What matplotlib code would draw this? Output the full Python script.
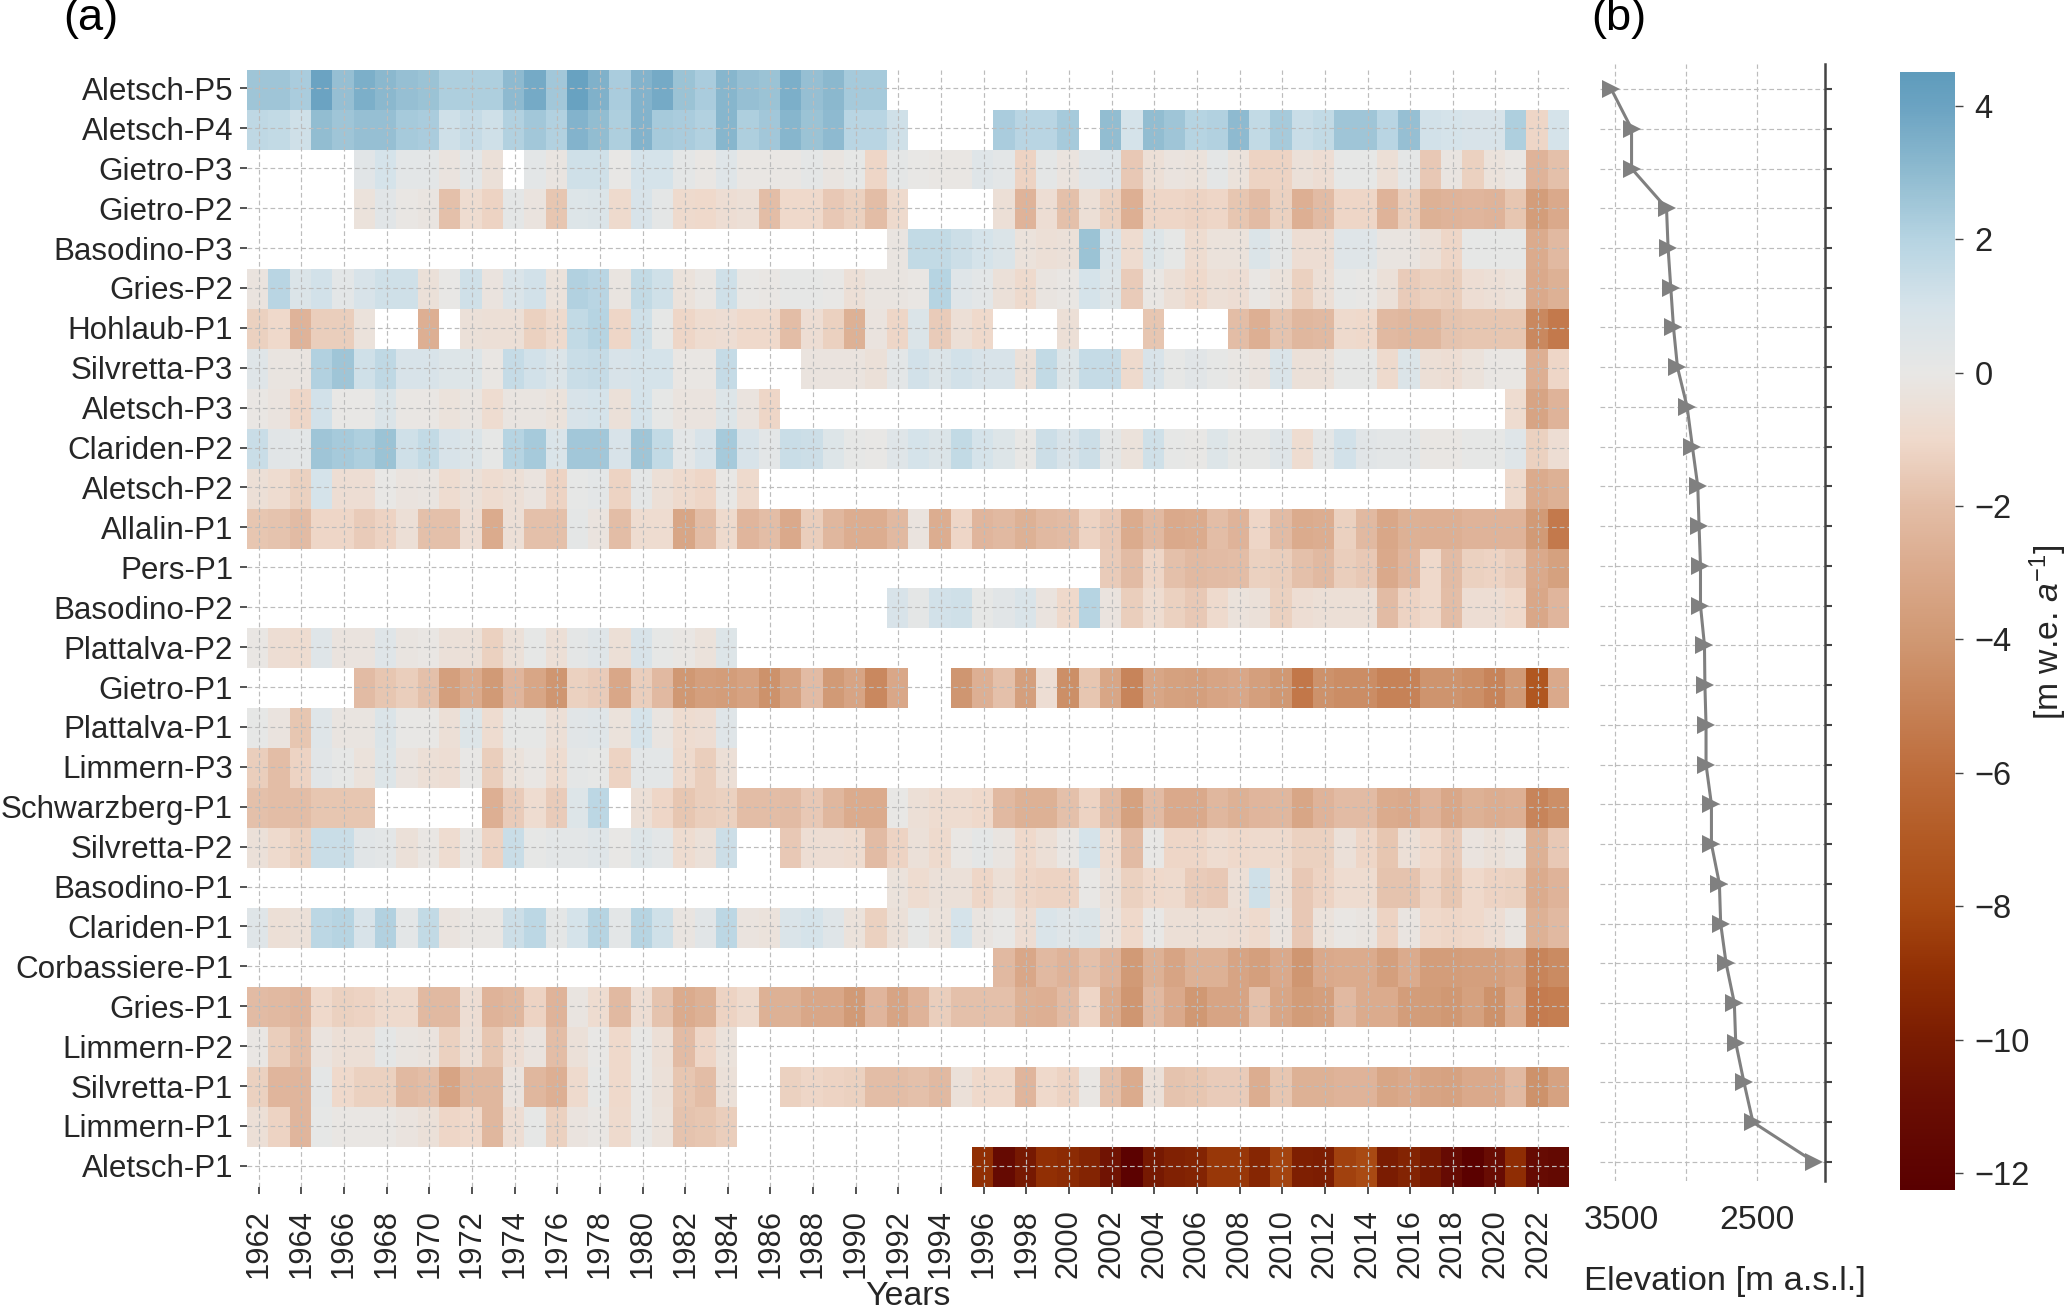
import numpy as np
import matplotlib
matplotlib.use('Agg')
import matplotlib.pyplot as plt
from matplotlib.colors import LinearSegmentedColormap
from matplotlib.transforms import ScaledTranslation

plt.rcParams['font.family'] = ['Liberation Sans', 'DejaVu Sans']
plt.rcParams['mathtext.fontset'] = 'custom'
plt.rcParams['mathtext.rm'] = 'Liberation Sans'
plt.rcParams['mathtext.it'] = 'Liberation Sans:italic'
plt.rcParams['mathtext.bf'] = 'Liberation Sans:bold'

n = np.nan
years = list(range(1962, 2024))
stakes = ['Aletsch-P5', 'Aletsch-P4', 'Gietro-P3', 'Gietro-P2', 'Basodino-P3', 'Gries-P2', 'Hohlaub-P1',
          'Silvretta-P3', 'Aletsch-P3', 'Clariden-P2', 'Aletsch-P2', 'Allalin-P1', 'Pers-P1', 'Basodino-P2',
          'Plattalva-P2', 'Gietro-P1', 'Plattalva-P1', 'Limmern-P3', 'Schwarzberg-P1', 'Silvretta-P2',
          'Basodino-P1', 'Clariden-P1', 'Corbassiere-P1', 'Gries-P1', 'Limmern-P2', 'Silvretta-P1',
          'Limmern-P1', 'Aletsch-P1']

elevation = [3526, 3383, 3383, 3137, 3126, 3107, 3088, 3060, 2992, 2955, 2917, 2908, 2898, 2898, 2870,
             2867, 2859, 2859, 2821, 2821, 2765, 2756, 2718, 2660, 2650, 2592, 2529, 2098]

aletsch_p5 = [2.6, 2.6, 2.3, 4.0, 2.8, 3.5, 3.1, 2.8, 2.7, 2.2, 2.2, 2.2, 3.0, 3.7, 2.5, 4.1, 3.4, 2.3, 3.3, 3.7,
              2.7, 2.3, 3.2, 2.8, 2.7, 3.5, 2.8, 3.1, 2.4, 2.4] + [n] * 32
aletsch_p4 = [1.7, 1.6, 1.2, 2.9, 2.6, 2.8, 2.8, 2.4, 2.3, 1.2, 1.5, 1.2, 2.1, 2.5, 2.1, 3.3, 2.9, 2.2, 3.3, 2.4,
              2.3, 2.1, 3.2, 2.2, 2.5, 3.2, 2.7, 3.0, 1.9, 1.9, 1.2] + [n] * 4 + [2.3, 1.9, 1.9, 2.4, n,
              2.9, 1.0, 2.9, 2.6, 2.0, 2.1, 3.0, 1.6, 2.4, 1.4, 1.6, 2.6, 2.6, 1.9, 2.8, 1.1, 1.0, 0.9, 0.9, 2.2, -1.1, 1.0]
gietro_p3 = [n] * 5 + [0.4, 1.0, 0.3, 0.3, -0.3, 0.3, -0.5, n, 0.3, -0.2, 1.2, 1.2, 0.0, 1.0, 1.0, 0.2, -0.1, 0.5,
             -0.1, -0.1, -0.1, 0.2, -0.2, 0.1, -1.1, 0.2, 0.0, -0.1, -0.1, 0.5, 0.3, -1.2, 0.2, -0.3, 0.4, 0.5, -1.6,
             -0.6, -0.3, -0.4, 0.2, -0.4, -1.2, -1.2, -0.5, -0.7, 0.1, 0.1, -0.6, 0.2, -1.6, -0.2, -1.3, -0.4, -0.1, -2.5, -1.9]
gietro_p2 = [n] * 5 + [-0.4, 0.4, -0.1, -0.2, -1.9, -0.8, -1.2, 0.2, -0.3, -1.7, 0.6, 0.7, -0.9, 0.9, 0.2, -0.9, -1.0,
             -0.7, -0.6, -2.0, -1.0, -1.0, -1.6, -1.3, -2.0, -0.9] + [n] * 4 + [-0.6, -2.5, -0.7, -1.9, -0.6, -1.3, -2.7,
             -1.1, -1.1, -1.2, -1.1, -1.7, -2.1, -1.3, -2.7, -2.1, -1.1, -1.1, -2.5, -1.4, -2.6, -2.5, -2.4, -2.5, -1.7, -3.7, -3.0]
basodino_p3 = [n] * 30 + [-0.2, 1.6, 1.6, 1.3, 1.0, 0.7, -0.4, -0.6, -0.5, 2.7, 0.8, -0.8, 0.6, 0.1, -0.8, -0.4, -0.4,
               0.7, 0.2, -0.7, -0.7, 0.5, 0.5, -0.2, -0.2, -0.5, -1.1, 0.1, 0.1, 0.1, -2.9, -2.2]
gries_p2 = [-0.3, 1.9, 0.7, 1.1, 0.3, 0.9, 1.2, 1.2, -0.5, 0.0, 1.2, -0.3, 0.8, 1.1, -0.4, 2.1, 1.9, -0.2, 1.6, 1.2,
            -0.4, -0.1, 1.2, 0.0, -0.1, 0.1, 0.1, 0.0, -0.6, -0.2, -0.2, -0.1, 2.0, 0.5, 0.3, -0.5, -0.9, -0.2, -0.1,
            1.0, 0.6, -1.5, -0.1, -0.6, -1.0, -0.6, -0.7, -0.1, -0.4, -1.3, -0.6, 0.1, 0.0, -0.5, -1.5, -1.3, -1.4,
            -0.7, -0.6, -0.4, -3.0, -2.6]
hohlaub_p1 = [-1.3, -1.0, -2.5, -1.4, -1.4, -0.4, n, n, -2.7, n, -0.5, -0.6, -0.6, -1.3, -0.9, 1.6, 2.0, -1.1, 1.2, 0.1,
              -1.1, -0.8, -0.7, -1.0, -1.0, -2.0, -0.7, -1.3, -2.6, -0.3, -1.1, 0.7, -1.5, -0.6, -1.0, n, n, n, -0.6,
              n, n, n, -1.7, n, n, n, -2.0, -2.7, -1.8, -2.3, -2.2, -0.9, -1.0, -2.2, -2.3, -2.3, -1.8, -1.7, -1.7, -1.7, -4.7, -5.4]
silvretta_p3 = [0.5, -0.2, -0.2, 2.1, 2.6, 1.2, 1.7, 0.9, 0.9, 0.6, 0.6, -0.1, 1.5, 1.1, 0.7, 1.4, 1.5, 0.9, 1.0, 1.0,
                -0.1, -0.1, 1.5, n, n, n, -0.3, -0.3, -0.3, -0.5, 0.3, 1.1, 0.7, 1.1, 0.9, 0.9, -0.5, 1.6, 0.6, 1.5, 1.5,
                -0.9, 0.9, 0.1, 0.4, 0.1, -0.1, -0.3, 0.8, -0.5, -0.5, 0.1, 0.1, -0.9, 0.7, -0.6, -0.7, -0.4, -0.1, -0.1, -2.7, -1.1]
aletsch_p3 = [-0.1, -0.3, -1.1, 1.1, 0.0, 0.0, 0.7, -0.1, -0.1, -0.4, -0.2, -0.8, -0.2, -0.2, -0.4, 0.9, 1.0, -0.5, 1.0,
              0.1, -0.3, -0.3, 0.6, -0.3, -1.1] + [n] * 34 + [-0.8, -3.3, -2.5]
clariden_p2 = [1.4, 0.4, 0.3, 2.6, 2.4, 2.2, 2.7, 1.2, 1.6, 0.9, 0.7, 0.1, 2.0, 2.4, 0.8, 2.5, 2.5, 0.9, 2.6, 1.6, 0.3,
               0.9, 2.4, 0.9, 0.3, 1.4, 1.3, 0.6, 0.1, 0.0, 0.5, 1.0, 0.7, 1.6, 1.0, 0.6, 0.0, 1.3, 0.9, 1.3, 0.2, -0.4,
               1.2, 0.1, 0.0, 0.6, 0.1, 0.1, 0.5, -0.8, 0.2, 1.1, 0.4, 0.3, 0.3, -0.1, -0.1, 0.1, 0.1, 0.5, -1.3, -0.7]
aletsch_p2 = [-0.6, -0.8, -1.3, 1.0, -0.7, -0.7, 0.0, -0.3, -0.2, -0.8, -0.5, -0.8, -0.6, -0.3, -1.2, 0.1, 0.3, -1.2, 0.2,
              -0.6, -0.9, -1.1, 0.0, -0.9] + [n] * 35 + [-0.9, -2.9, -2.6]
allalin_p1 = [-1.7, -1.8, -2.1, -1.1, -1.1, -1.5, -1.2, -0.6, -1.9, -1.9, -0.7, -2.9, -0.6, -1.9, -1.9, 0.2, -0.3, -2.0,
              -0.8, -0.8, -3.2, -2.0, -0.9, -2.4, -2.0, -3.0, -1.4, -2.3, -2.8, -2.8, -2.2, -0.3, -2.8, -1.1, -2.4, -2.2,
              -2.6, -2.2, -2.1, -1.2, -1.6, -2.9, -2.2, -3.0, -2.9, -2.0, -2.5, -1.1, -2.1, -2.9, -2.8, -1.3, -2.2, -3.1,
              -2.6, -2.7, -2.7, -2.5, -2.5, -2.5, -3.9, -5.4]
pers_p1 = [n] * 40 + [-1.5, -2.1, -1.1, -1.9, -2.2, -2.1, -2.0, -1.3, -1.4, -1.9, -2.2, -1.4, -1.6, -3.0, -2.4, -1.0, -2.1,
                      -1.3, -1.2, -1.5, -3.0, -3.5]
basodino_p2 = [n] * 30 + [0.9, 0.2, 1.1, 1.2, 0.1, 0.4, 0.8, -0.3, -1.0, 2.0, -0.3, -1.4, -0.8, -1.3, -1.6, -0.9, -0.4, -0.5,
                          -1.3, -0.7, -0.6, -0.6, -0.6, -2.1, -1.2, -1.0, -2.0, -0.7, -0.7, -1.0, -3.1, -2.4]
plattalva_p2 = [-0.1, -0.7, -0.8, 0.5, -0.3, -0.3, 0.5, -0.2, -0.1, -0.5, -0.5, -1.3, -0.5, 0.1, -0.6, 0.2, 0.5, -0.6, 0.9,
                0.1, -0.1, -0.4, 0.6] + [n] * 39
gietro_p1 = [n] * 5 + [-2.1, -1.7, -1.4, -1.9, -3.6, -2.9, -3.9, -2.4, -3.2, -4.1, -1.3, -1.5, -3.1, -1.4, -2.2, -4.0, -3.6,
                       -3.7, -3.4, -4.3, -3.4, -2.1, -3.9, -3.3, -4.7, -3.1, n, n, -4.1, -2.7, -1.9, -3.6, -0.7, -4.4, -1.7,
                       -3.2, -4.9, -3.2, -3.5, -3.6, -3.3, -3.1, -3.6, -4.0, -5.5, -4.3, -4.5, -4.5, -5.0, -5.0, -4.2, -4.2,
                       -4.4, -4.9, -3.9, -7.2, -3.0]
plattalva_p1 = [0.1, -0.3, -1.7, 0.5, -0.2, -0.2, 0.7, 0.0, 0.0, -0.6, 0.6, -0.8, 0.1, 0.1, -0.6, 0.4, 0.5, -0.4, 1.0, -0.2,
                -0.8, -0.7, 0.5] + [n] * 39
limmern_p3 = [-1.4, -2.0, -1.2, 0.4, 0.1, -0.4, 0.6, -0.3, -0.6, -0.7, 0.0, -1.4, -0.4, -0.1, -0.8, 0.2, 0.1, -1.2, 0.3, 0.3,
              -0.9, -1.4, -0.6] + [n] * 39
schwarzberg_p1 = [-1.9, -2.0, -2.0, -1.7, -1.7, -1.7, n, n, n, n, n, -2.7, -1.5, -0.8, -1.5, 0.6, 1.8, n, -0.6, -1.1, -1.7,
                  -1.4, -1.3, -2.0, -2.0, -2.1, -1.6, -2.3, -2.9, -2.9, 0.0, -0.6, -0.8, -0.8, -1.0, -2.2, -2.6, -2.6, -1.9,
                  -1.2, -2.2, -3.5, -2.1, -3.0, -3.0, -2.3, -2.6, -2.4, -2.3, -3.2, -2.5, -2.1, -2.1, -2.9, -3.0, -2.5, -3.1,
                  -2.6, -2.8, -2.7, -4.9, -4.4]
silvretta_p2 = [-0.5, -0.9, -1.3, 1.4, 1.4, 0.4, 0.3, -0.5, -0.1, -0.8, -0.1, -1.2, 1.4, 0.1, 0.3, 0.3, 0.5, 0.0, 0.6, 0.3, -0.8,
                -0.5, 1.3, n, n, -1.6, -0.7, -0.7, -0.8, -2.1, -1.2, -0.5, -0.9, -0.1, 0.2, -0.2, -1.0, -0.6, -0.1, 1.0, -0.8,
                -2.1, 0.0, -1.1, -1.1, -0.8, -1.0, -0.9, -0.9, -1.3, -1.3, -0.5, -1.1, -1.7, -0.6, -1.0, -1.5, -0.3, -0.5, -0.2, -2.6, -1.6]
basodino_p1 = [n] * 30 + [-0.4, -0.8, -0.5, -0.5, -1.1, -0.6, -1.1, -1.2, -1.2, 0.0, -0.5, -1.3, -1.0, -0.9, -1.5, -1.6, -0.6,
                          1.2, -0.6, -1.6, -1.2, -0.8, -0.8, -1.8, -1.8, -1.2, -1.7, -1.0, -1.2, -1.3, -2.9, -2.5]
clariden_p1 = [0.5, -0.6, -0.5, 1.8, 2.0, 0.9, 2.1, 0.3, 1.6, -0.3, -0.1, -0.1, 1.3, 1.8, 0.2, 1.0, 2.0, 0.3, 2.0, 1.2, -0.2, 0.4,
               1.8, -0.3, -0.4, 0.8, 1.0, 0.5, -0.4, -1.3, -0.5, 0.1, -0.4, 1.0, -0.2, 0.0, -0.7, 0.8, 0.5, 0.7, -0.3, -1.0, 0.0,
               -0.6, -0.6, -0.6, -0.7, -0.9, -0.3, -1.6, -0.4, -0.1, -0.2, -1.2, -0.2, -1.0, -1.1, -1.0, -0.7, -0.2, -2.6, -2.2]
corbassiere_p1 = [n] * 35 + [-2.2, -3.1, -2.2, -2.5, -1.9, -2.5, -3.9, -2.6, -3.3, -2.6, -2.6, -3.3, -3.6, -3.0, -4.1, -3.0, -2.9,
                             -2.9, -3.6, -2.9, -3.7, -3.7, -3.6, -3.6, -3.3, -4.9, -4.6]
gries_p1 = [-2.1, -2.2, -2.4, -1.0, -1.3, -1.2, -0.9, -0.9, -2.2, -2.2, -0.7, -2.5, -2.3, -1.2, -2.5, -0.2, -0.8, -2.2, -0.7, -1.8,
            -2.9, -2.6, -1.2, -0.9, -2.6, -2.6, -3.1, -3.1, -3.9, -2.4, -3.3, -2.5, -1.4, -1.9, -1.9, -1.9, -2.6, -2.7, -2.1,
            -1.1, -2.9, -4.1, -2.2, -3.0, -4.0, -3.3, -3.3, -1.9, -3.2, -3.8, -3.6, -2.2, -2.9, -2.9, -3.7, -3.8, -4.0, -3.5,
            -4.3, -2.9, -5.3, -5.2]
limmern_p2 = [-0.1, -1.4, -2.0, -0.3, -0.6, -0.6, 0.2, -0.2, -0.3, -1.3, -0.6, -1.7, -0.7, -0.3, -2.0, -0.5, 0.0, -1.0, 0.0, -0.6,
              -2.1, -1.1, -0.4] + [n] * 39
silvretta_p1 = [-1.3, -2.4, -2.4, 0.2, -1.0, -1.3, -1.3, -2.2, -2.0, -3.3, -2.3, -2.3, -0.3, -2.3, -2.7, -0.9, 0.1, -1.0, 0.0, -0.5,
                -1.7, -2.0, -0.5, n, n, -1.3, -1.1, -1.2, -1.3, -2.0, -2.0, -1.9, -2.2, -0.5, -1.0, -1.0, -2.4, -1.0, -1.2, -0.1,
                -1.9, -2.9, -0.5, -1.8, -1.7, -1.5, -1.5, -2.8, -1.7, -2.6, -2.6, -2.5, -2.5, -3.2, -3.0, -3.3, -3.4, -3.0, -3.0,
                -2.2, -4.3, -3.4]
limmern_p1 = [-0.6, -1.2, -2.4, 0.1, -0.1, -0.1, -0.1, -0.3, -0.5, -1.1, -1.0, -2.3, -0.7, 0.1, -1.3, -0.3, -0.1, -0.9, 0.0, -0.4,
              -1.8, -1.7, -1.4] + [n] * 39
aletsch_p1 = [n] * 34 + [-9.0, -11.3, -10.2, -9.0, -9.2, -9.6, -10.6, -12.0, -10.2, -9.7, -9.6, -8.7, -8.7, -9.5, -8.2, -9.8, -9.9,
                         -8.3, -7.9, -10.0, -9.6, -10.2, -11.2, -12.1, -11.1, -9.1, -11.2, -11.4]

balance = np.array([aletsch_p5, aletsch_p4, gietro_p3, gietro_p2, basodino_p3, gries_p2, hohlaub_p1, silvretta_p3,
                    aletsch_p3, clariden_p2, aletsch_p2, allalin_p1, pers_p1, basodino_p2, plattalva_p2, gietro_p1,
                    plattalva_p1, limmern_p3, schwarzberg_p1, silvretta_p2, basodino_p1, clariden_p1, corbassiere_p1,
                    gries_p1, limmern_p2, silvretta_p1, limmern_p1, aletsch_p1], dtype=float)

vmin, vmax = -12.25, 4.5
nodes = [(4.5, '#5f9cbc'), (4, '#6ba3c2'), (3, '#8fbbd0'), (2, '#b6d4e2'), (1, '#d6e3ea'), (0, '#e8e7e5'),
         (-1, '#efd9cb'), (-2, '#e3bda6'), (-3, '#daa98b'), (-4, '#d09873'), (-6, '#bd6c3b'), (-7, '#b25a24'),
         (-8, '#a84912'), (-9, '#912f04'), (-10, '#7a1c02'), (-11, '#690d03'), (-12.25, '#590000')]
nodes = sorted(nodes)
cmap = LinearSegmentedColormap.from_list('mb', [((v - vmin) / (vmax - vmin), c) for v, c in nodes], N=512)

W, H = 2067, 1310
fig = plt.figure(figsize=(W / 100, H / 100), dpi=100, facecolor='white')


def px_axes(left, top, right, bottom):
    return fig.add_axes([left / W, 1 - bottom / H, (right - left) / W, (bottom - top) / H])


dark = '#262626'
grid_kw = dict(color='#bcbcbc', linestyle='--', linewidth=0.85, dashes=(4, 2.5))

# (a) heatmap
ax = px_axes(247, 69.7, 1569, 1187)
mesh = ax.pcolormesh(np.arange(63), np.arange(29), balance, cmap=cmap, vmin=vmin, vmax=vmax, linewidth=0)
ax.set_xlim(0, 62)
ax.set_ylim(28, 0)
ax.set_yticks(np.arange(28) + 0.47)
ax.set_yticklabels(stakes, fontsize=22.6, color=dark)
ax.set_xticks(np.arange(0, 62, 2) + 0.55)
ax.set_xticklabels(years[::2], rotation=90, fontsize=22.2, color=dark)
ax.tick_params(axis='y', length=5, width=1.3, color='#444444', pad=5)
ax.tick_params(axis='x', length=5, width=1.3, color='#444444', pad=11)
ax.set_axisbelow(False)
ax.grid(True, **grid_kw)
for s in ax.spines.values():
    s.set_visible(False)
ax.set_xlabel('Years', fontsize=24.4, color=dark)
ax.xaxis.set_label_coords(0.5, -0.0845)

# (b) elevation profile
ax2 = px_axes(1600, 64, 1825, 1181)
ax2.plot(elevation, np.arange(28), color='#808080', linewidth=2.2, marker='>', markersize=13.5, markeredgewidth=0)
ax2.set_xlim(3605, 2022)
ax2.set_ylim(27.48, -0.63)
ax2.set_yticks(np.arange(28))
ax2.set_yticklabels([])
ax2.yaxis.tick_right()
ax2.set_xticks([3500, 3000, 2500])
ax2.set_xticklabels(['3500', '', '2500'], fontsize=24.3, color=dark)
ax2.tick_params(axis='x', length=0, pad=17)
ax2.tick_params(axis='y', length=5, width=1.5, color='#444444')
ax2.grid(True, **grid_kw)
ax2.set_axisbelow(True)
# the 3500 label sits a little right of its tick in the original
label_3500 = ax2.get_xticklabels()[0]
label_3500.set_transform(label_3500.get_transform() + ScaledTranslation(6 / 100, 0, fig.dpi_scale_trans))
for name in ['top', 'left', 'bottom']:
    ax2.spines[name].set_visible(False)
ax2.spines['right'].set_color('#444444')
ax2.spines['right'].set_linewidth(1.8)
fig.text(1584 / W, 1 - 1290 / H, 'Elevation [m a.s.l.]', fontsize=24.8, color=dark, ha='left', va='baseline')

# colorbar
cax = px_axes(1900, 72.4, 1955.3, 1189.6)
cb = fig.colorbar(mesh, cax=cax)
cb.set_ticks([4, 2, 0, -2, -4, -6, -8, -10, -12])
cb.outline.set_visible(False)
cb.ax.tick_params(labelsize=23.5, length=6, width=1.0, color='#444444', labelcolor=dark, pad=8)
fig.text(2048 / W, 1 - 632 / H, r'[m w.e. $a^{-1}$]', fontsize=24.3, color=dark, rotation=90, ha='center', va='center')

fig.text(63 / W, 1 - 30 / H, '(a)', fontsize=32.6, color='black', ha='left', va='baseline')
fig.text(1591 / W, 1 - 30 / H, '(b)', fontsize=32.6, color='black', ha='left', va='baseline')

fig.savefig('out.png', dpi=100)
